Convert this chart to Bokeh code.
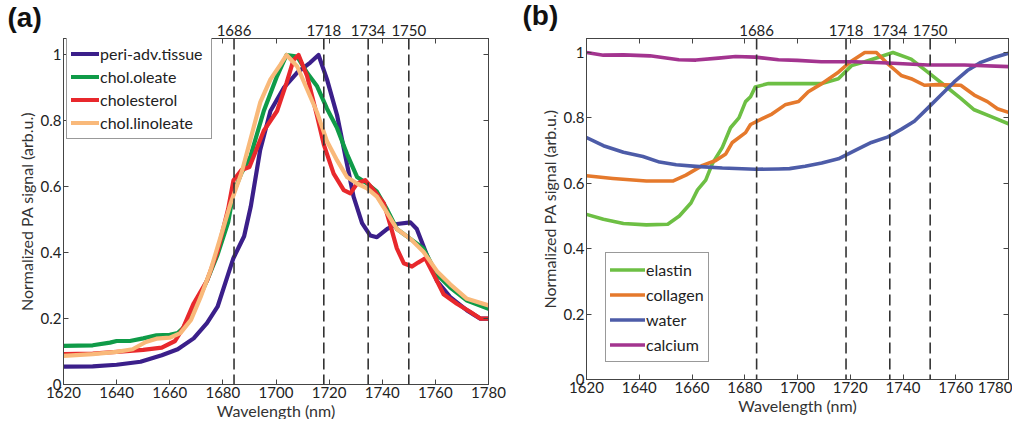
from bokeh.plotting import figure
from bokeh.layouts import row
from bokeh.models import Range1d, LinearAxis, FixedTicker, Span, Legend, LegendItem, Title
from bokeh.embed import file_html
from bokeh.resources import INLINE

# ---------------- data: panel (a) ----------------
peri_x = [1620, 1631, 1640, 1649, 1657, 1663, 1669, 1674, 1678, 1682, 1684, 1688, 1690.5, 1694, 1697.9,
          1702.9, 1707.9, 1712.9, 1716, 1719.2, 1723, 1726.7, 1729.2, 1732.4, 1735.5, 1738, 1741.9, 1745.5,
          1750.6, 1753, 1756.8, 1760.6, 1765.6, 1771.9, 1776.9, 1780]
peri_y = [0.054, 0.055, 0.06, 0.069, 0.089, 0.107, 0.14, 0.186, 0.236, 0.335, 0.384, 0.45, 0.54, 0.71, 0.83,
          0.90, 0.946, 0.977, 1.0, 0.926, 0.817, 0.67, 0.57, 0.49, 0.452, 0.447, 0.472, 0.487,
          0.492, 0.472, 0.393, 0.314, 0.265, 0.225, 0.2, 0.2]

olea_x = [1620, 1631, 1637.5, 1640, 1645, 1650, 1655, 1660, 1663, 1665, 1669, 1674, 1678, 1682, 1684, 1687,
          1690.3, 1695.4, 1700.4, 1704, 1708, 1711.7, 1715.4, 1719.2, 1723, 1726.7, 1730.5, 1734.3, 1738,
          1741.9, 1745.5, 1750.6, 1755.5, 1760.6, 1765.6, 1771.9, 1780]
olea_y = [0.117, 0.119, 0.127, 0.132, 0.132, 0.14, 0.149, 0.151, 0.156, 0.171, 0.226, 0.315, 0.394, 0.493,
          0.582, 0.642, 0.69, 0.83, 0.936, 1.0, 0.995, 0.946, 0.906, 0.837, 0.778, 0.70, 0.63, 0.61, 0.585,
          0.53, 0.472, 0.442, 0.413, 0.334, 0.294, 0.255, 0.23]

chol_x = [1620, 1631, 1640, 1650, 1657, 1662, 1665, 1669, 1674, 1678, 1682, 1684, 1687, 1690, 1695.4, 1700.4,
          1704, 1706.6, 1708.5, 1711.7, 1715.4, 1718, 1721.7, 1725.5, 1728, 1730.5, 1733.6, 1736.8, 1740.6,
          1743.1, 1745.5, 1748.1, 1751.2, 1753.5, 1756.2, 1760.6, 1763.1, 1768.1, 1773.2, 1776.9, 1780]
chol_y = [0.092, 0.094, 0.099, 0.105, 0.112, 0.132, 0.171, 0.246, 0.315, 0.404, 0.533, 0.62, 0.651, 0.66,
          0.77, 0.83, 0.916, 0.985, 1.0, 0.936, 0.817, 0.728, 0.64, 0.59, 0.58, 0.61, 0.62, 0.59, 0.55,
          0.482, 0.413, 0.368, 0.358, 0.37, 0.383, 0.314, 0.274, 0.245, 0.22, 0.2, 0.2]

lino_x = [1620, 1631, 1640, 1646, 1651, 1655, 1660, 1664, 1668, 1671.6, 1675.3, 1679, 1683, 1687, 1690.6,
          1694.1, 1697.9, 1701.6, 1704, 1708, 1711.7, 1715.4, 1719.2, 1723, 1726.7, 1730.5, 1734.3, 1738,
          1741.9, 1745.5, 1750.6, 1755.5, 1760.6, 1765.6, 1771.9, 1780]
lino_y = [0.087, 0.092, 0.099, 0.107, 0.129, 0.139, 0.142, 0.156, 0.196, 0.265, 0.345, 0.444, 0.552, 0.642,
          0.75, 0.857, 0.926, 0.97, 1.0, 0.965, 0.896, 0.827, 0.738, 0.68, 0.63, 0.61, 0.595, 0.57,
          0.52, 0.472, 0.442, 0.403, 0.344, 0.304, 0.26, 0.24]

names_a = ["peri-adv.tissue", "chol.oleate", "cholesterol", "chol.linoleate"]

# ---------------- data: panel (b) ----------------
elas_x = [1620, 1626.4, 1634, 1642.7, 1650.8, 1655.2, 1659.6, 1662.1, 1665.2, 1667.7, 1671.5, 1674.6, 1677.8,
          1680.3, 1682.2, 1684, 1689, 1700, 1709.2, 1715.5, 1720.5, 1725.5, 1730.5, 1736.2, 1743.1, 1749.4,
          1755.7, 1761.9, 1767, 1773.2, 1780]
elas_y = [0.505, 0.49, 0.477, 0.473, 0.475, 0.50, 0.54, 0.58, 0.61, 0.66, 0.71, 0.77, 0.80, 0.85, 0.865,
          0.895, 0.905, 0.905, 0.905, 0.92, 0.96, 0.972, 0.985, 1.0, 0.98, 0.94, 0.90, 0.86, 0.825, 0.805, 0.782]

coll_x = [1620, 1630, 1642.7, 1652.7, 1657.7, 1664, 1669, 1672.8, 1675.3, 1680.3, 1682.2, 1685.9, 1690.3,
          1695.3, 1700.4, 1704.1, 1709.2, 1715.5, 1719.8, 1725.5, 1729.9, 1734.3, 1739.3, 1743.1, 1748.1,
          1753.1, 1761.9, 1767, 1772, 1775.8, 1780]
coll_y = [0.623, 0.615, 0.607, 0.607, 0.625, 0.655, 0.67, 0.69, 0.725, 0.755, 0.78, 0.795, 0.812, 0.84, 0.85,
          0.88, 0.905, 0.94, 0.97, 1.0, 1.0, 0.965, 0.93, 0.92, 0.90, 0.902, 0.90, 0.87, 0.85, 0.828, 0.817]

water_x = [1620, 1626.4, 1634, 1641.4, 1647.7, 1654, 1661.5, 1671.5, 1684, 1692.8, 1697, 1702.9, 1709.2,
           1715.5, 1721.7, 1728, 1734.3, 1739.3, 1744.3, 1749.4, 1754.4, 1759.4, 1764.4, 1769.5, 1774.5, 1780]
water_y = [0.74, 0.715, 0.695, 0.682, 0.665, 0.657, 0.652, 0.647, 0.643, 0.644, 0.645, 0.652, 0.662, 0.675,
           0.70, 0.725, 0.742, 0.765, 0.79, 0.83, 0.87, 0.91, 0.945, 0.97, 0.985, 0.998]

calc_x = [1620, 1626.4, 1634, 1644, 1655, 1661.5, 1670, 1676.5, 1684, 1692.8, 1700, 1709, 1721.7, 1734.3,
          1749.4, 1763.2, 1780]
calc_y = [1.0, 0.992, 0.993, 0.99, 0.978, 0.977, 0.983, 0.988, 0.986, 0.978, 0.976, 0.972, 0.972, 0.968,
          0.962, 0.962, 0.957]

names_b = ["elastin", "collagen", "water", "calcium"]

# ---------------- ticks / markers ----------------
x_ticks = [1620, 1640, 1660, 1680, 1700, 1720, 1740, 1760, 1780]
y_ticks = [0, 0.2, 0.4, 0.6, 0.8, 1.0]
y_tick_labels = ["0", "0.2", "0.4", "0.6", "0.8", "1"]
peak_labels = ["1686", "1718", "1734", "1750"]
peak_pos_a = [1684.2, 1718.0, 1734.7, 1750.0]
peak_pos_b = [1684.5, 1718.4, 1735.0, 1750.3]

FONT = "Lato"
AX = "#444444"


def make_panel(letter, letter_offset, letter_standoff, series, names, colors, lw, peaks, ymax,
               left, top, fw, fh, right, bottom, leg_loc, leg_glyph_w, leg_row_h, leg_label_w):
    p = figure(frame_width=fw, frame_height=fh,
               x_range=Range1d(1620, 1780), y_range=Range1d(0, ymax),
               output_backend="svg", toolbar_location=None,
               min_border_left=left, min_border_top=top, min_border_right=right, min_border_bottom=bottom,
               background_fill_color="white", border_fill_color="white",
               outline_line_color=AX, outline_line_width=1)
    p.title = Title(text=letter, align="left", offset=letter_offset, standoff=letter_standoff,
                    vertical_align="top", text_font="Liberation Sans", text_font_style="bold",
                    text_font_size="28px", text_color="#111111")
    p.grid.visible = False
    renderers = []
    for (xs, ys), c in zip(series, colors):
        renderers.append(p.line(xs, ys, line_color=c, line_width=lw, line_join="round", line_cap="round"))

    for x in peaks:
        p.add_layout(Span(location=x, dimension="height", line_color="#333333",
                          line_dash="11 5", line_width=1.6))

    overrides_y = {t: l for t, l in zip(y_ticks, y_tick_labels)}
    for ax in (p.xaxis[0], p.yaxis[0]):
        ax.axis_line_color = AX
        ax.major_tick_line_color = AX
        ax.major_tick_in = 5
        ax.major_tick_out = 0
        ax.minor_tick_line_color = None
        ax.major_label_text_font = FONT
        ax.major_label_text_font_size = "15px"
        ax.major_label_text_color = "#222222"
        ax.axis_label_text_font = FONT
        ax.axis_label_text_font_size = "16px"
        ax.axis_label_text_font_style = "normal"
        ax.axis_label_text_color = "#333333"
        ax.major_label_standoff = 2
    p.xaxis[0].ticker = FixedTicker(ticks=x_ticks)
    p.yaxis[0].ticker = FixedTicker(ticks=y_ticks)
    p.yaxis[0].major_label_overrides = overrides_y
    p.xaxis[0].axis_label = "Wavelength (nm)"
    p.xaxis[0].axis_label_standoff = 0
    p.yaxis[0].axis_label = "Normalized PA signal (arb.u.)"
    p.yaxis[0].axis_label_standoff = 2

    # right box axis: inward ticks only (minor ticks, no labels)
    ra = LinearAxis(ticker=FixedTicker(ticks=[], minor_ticks=y_ticks),
                    axis_line_color=AX, major_tick_line_color=None,
                    minor_tick_line_color=AX, minor_tick_in=5, minor_tick_out=0)
    p.add_layout(ra, "right")
    # top axis with peak labels, box ticks as minor ticks
    ta = LinearAxis(ticker=FixedTicker(ticks=peaks, minor_ticks=x_ticks),
                    major_label_overrides={pk: lb for pk, lb in zip(peaks, peak_labels)},
                    axis_line_color=AX, major_tick_line_color=None, major_tick_in=0, major_tick_out=0,
                    minor_tick_line_color=AX, minor_tick_in=5, minor_tick_out=0,
                    major_label_text_font=FONT, major_label_text_font_size="15px",
                    major_label_text_color="#222222", major_label_standoff=3)
    p.add_layout(ta, "above")

    legend = Legend(items=[LegendItem(label=n, renderers=[r]) for n, r in zip(names, renderers)],
                    location=leg_loc, glyph_width=leg_glyph_w, glyph_height=leg_row_h,
                    label_height=leg_row_h, label_width=leg_label_w, label_standoff=1, spacing=0,
                    padding=4, margin=0,
                    label_text_font=FONT, label_text_font_size="16px", label_text_color="#222222",
                    border_line_color="#333333", border_line_width=1,
                    background_fill_color="white", background_fill_alpha=1)
    p.add_layout(legend, "center")
    return p


pa = make_panel("(a)", -56, -27,
                [(peri_x, peri_y), (olea_x, olea_y), (chol_x, chol_y), (lino_x, lino_y)],
                names_a, ["#3b1f8a", "#0f9b48", "#e8282c", "#f9b97a"], 4.2, peak_pos_a,
                1.05, 63, 33, 425, 346, 28, 40, (3, 245), 28, 23, 107)
pb = make_panel("(b)", -64, -23,
                [(elas_x, elas_y), (coll_x, coll_y), (water_x, water_y), (calc_x, calc_y)],
                names_b, ["#6dbf44", "#e5792c", "#4d5ca8", "#a3348f"], 3.6, peak_pos_b,
                1.043, 70, 38, 422, 341, 4, 40, (19, 17), 35, 25, 58)

layout = row(pa, pb)
open("out.html", "w").write(file_html(layout, INLINE))
